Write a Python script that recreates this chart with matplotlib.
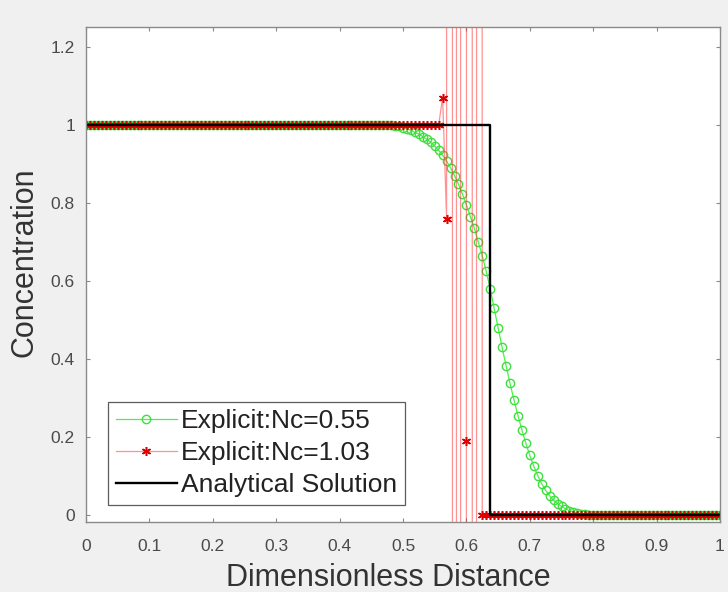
import numpy as np
import matplotlib
matplotlib.use("Agg")
import matplotlib.pyplot as plt

plt.rcParams["font.family"] = ["Liberation Sans", "DejaVu Sans"]

# grid: 161 nodes on [0, 1]
n_nodes = 161
x = np.linspace(0.0, 1.0, n_nodes)

# Explicit scheme, Nc = 0.55 (smeared front)
green_front = [1.0, 0.999, 0.998, 0.996, 0.993, 0.99, 0.986, 0.981, 0.976, 0.97,
               0.963, 0.955, 0.946, 0.935, 0.922, 0.907, 0.89, 0.87, 0.848, 0.823,
               0.795, 0.765, 0.735, 0.70, 0.665, 0.625, 0.58, 0.53, 0.48, 0.43,
               0.383, 0.338, 0.295, 0.255, 0.218, 0.184, 0.153, 0.125, 0.101, 0.08,
               0.063, 0.049, 0.038, 0.029, 0.022, 0.016, 0.011, 0.008, 0.005, 0.003,
               0.002, 0.001]
conc_nc055 = [1.0] * 76 + green_front + [0.0] * (n_nodes - 76 - len(green_front))

# Explicit scheme, Nc = 1.03 (unstable, blows up near the front)
red_front = [1.0, 1.0, 1.07, 0.76, 85.0, -90.0, 95.0, -80.0, 0.19, 70.0,
             -75.0, 60.0, 0.0]
conc_nc103 = [1.0] * 88 + red_front + [0.0] * (n_nodes - 88 - len(red_front))

# Analytical solution: sharp front
analytic_x = [0.0, 0.637, 0.637, 1.0]
analytic_c = [1.0, 1.0, 0.0, 0.0]

labels = ["Explicit:Nc=0.55", "Explicit:Nc=1.03", "Analytical Solution"]
xticks = [0, 0.1, 0.2, 0.3, 0.4, 0.5, 0.6, 0.7, 0.8, 0.9, 1]
xticklabels = ["0", "0.1", "0.2", "0.3", "0.4", "0.5", "0.6", "0.7", "0.8", "0.9", "1"]
yticks = [0, 0.2, 0.4, 0.6, 0.8, 1.0, 1.2]
yticklabels = ["0", "0.2", "0.4", "0.6", "0.8", "1", "1.2"]

W, H = 728, 592
fig = plt.figure(figsize=(W / 100, H / 100), dpi=100)
fig.patch.set_facecolor("#f0f0f0")
ax = fig.add_axes([86 / W, 1 - 522 / H, (720 - 86) / W, (522 - 27) / H])
ax.set_facecolor("white")

ax.plot(x, conc_nc055, color=(0.1, 0.95, 0.1, 0.8), lw=0.9, marker="o", ms=6,
        mfc="none", mec="#40dd40", mew=1.0, label=labels[0])
ax.plot(x, conc_nc103, color=(1.0, 0.15, 0.15, 0.5), lw=0.9, marker=(6, 2, 0), ms=6.5,
        mec="#e00000", mew=1.1, label=labels[1])
ax.plot(analytic_x, analytic_c, color="black", lw=1.7, label=labels[2])

ax.set_xlim(0, 1)
ax.set_ylim(-0.018, 1.251)
ax.set_xticks(xticks)
ax.set_xticklabels(xticklabels)
ax.set_yticks(yticks)
ax.set_yticklabels(yticklabels)

for s in ax.spines.values():
    s.set_color("#8a8a8a")
    s.set_linewidth(1.0)
ax.tick_params(axis="both", direction="in", length=3, width=0.8, color="#8a8a8a",
               top=True, right=True, labelsize=12.5, labelcolor="#4a4a4a")
ax.tick_params(axis="x", pad=12)
ax.tick_params(axis="y", pad=8)

ax.set_xlabel("Dimensionless Distance", fontsize=22, color="#333333")
ax.set_ylabel("Concentration", fontsize=22, color="#333333")
ax.xaxis.set_label_coords(0.477, -0.082)
ax.yaxis.set_label_coords(-0.074, 0.525)

leg = ax.legend(loc="lower left", bbox_to_anchor=(0.035, 0.034), borderaxespad=0,
                fontsize=19, frameon=True, fancybox=False, handlelength=2.3,
                handletextpad=0.15, labelspacing=0.3, borderpad=0.3)
leg.get_frame().set_edgecolor("#333333")
leg.get_frame().set_linewidth(0.9)
for t in leg.get_texts():
    t.set_color("#222222")

fig.savefig("out.png", dpi=100, facecolor=fig.get_facecolor())
